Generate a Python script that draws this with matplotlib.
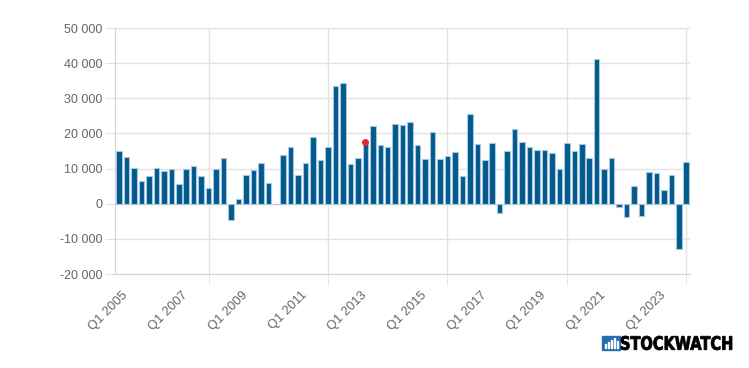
import matplotlib
matplotlib.use("Agg")
import matplotlib.pyplot as plt
from matplotlib.patches import Rectangle, PathPatch
from matplotlib.textpath import TextPath
from matplotlib.font_manager import FontProperties
from matplotlib.transforms import Affine2D, ScaledTranslation
from matplotlib.ticker import FuncFormatter

plt.rcParams['font.family'] = ['Liberation Sans', 'DejaVu Sans']

# quarterly values, Q1 2005 .. Q1 2024
values = [15100, 13300, 10200, 6400, 7800, 10300, 9300, 9800,
          5600, 10000, 10800, 7800, 4500, 9900, 13000, -4600,
          1300, 8100, 9500, 11500, 6000, -200, 13800, 16000,
          8200, 11700, 19100, 12400, 16200, 33600, 34400, 11200,
          12900, 17200, 22000, 16600, 16000, 22700, 22300, 23200,
          16600, 12700, 20400, 12800, 13600, 14600, 7800, 25400,
          16900, 12300, 17200, -2700, 15100, 21400, 17500, 16000,
          15400, 15400, 14500, 9900, 17200, 15000, 16900, 12900,
          41300, 9800, 13000, -900, -3900, 5000, -3400, 9100,
          8700, 4000, 8300, -12900, 11900]
quarters = ["Q%d %d" % (q, 2005 + i // 4) for i, q in
            enumerate([1, 2, 3, 4] * 20)][:len(values)]
marker_idx = 33
marker_val = 17500

bar_col = '#015a8c'
edge_col = '#a8c7de'
grid_col = '#e2e2e2'
txt_col = '#666666'

fig = plt.figure(figsize=(7.49, 3.68), dpi=100)
ax = fig.add_axes([0.1535, 0.2554, 0.9212 - 0.1535, 0.9239 - 0.2554])

x = list(range(len(values)))
ax.bar(x, values, width=0.74, color=bar_col, edgecolor=edge_col, linewidth=0.8, zorder=3)
ax.plot([marker_idx], [marker_val], 'o', color='#e8262b', ms=4, zorder=4)

ax.set_xlim(-0.55, 76.5)
ax.set_ylim(-20000, 50000)
ax.set_yticks(range(-20000, 50001, 10000))
ax.yaxis.set_major_formatter(FuncFormatter(lambda v, p: ("%d" % v) if abs(v) < 1000 else
                                           ("-" if v < 0 else "") + "%d 000" % (abs(v) // 1000)))
ax.grid(axis='y', color=grid_col, lw=1, zorder=0)
ax.tick_params(axis='y', length=7, color=grid_col, labelcolor=txt_col, labelsize=9, pad=2)

# labels every 8 quarters, vertical grid every 16
lab_idx = list(range(0, len(values), 8))
ax.set_xticks(lab_idx)
ax.set_xticklabels([quarters[i] for i in lab_idx], rotation=45, ha='right',
                   rotation_mode='anchor', color=txt_col, fontsize=9.3)
ax.tick_params(axis='x', which='major', length=0, pad=11)
shift = ScaledTranslation(3 / 100.0, 0, fig.dpi_scale_trans)
for lbl in ax.get_xticklabels():
    lbl.set_transform(lbl.get_transform() + shift)
ax.set_xticks([12, 28, 44, 60, 76], minor=True)
ax.tick_params(axis='x', which='minor', length=8, color=grid_col)
ax.grid(axis='x', which='minor', color=grid_col, lw=1, zorder=0)

for s in ['top', 'right']:
    ax.spines[s].set_visible(False)
ax.spines['left'].set_color('#d4d4d4')
ax.spines['bottom'].set_color('#d4d4d4')

# logo (pixel coordinates, origin bottom-left)
H = 368.0
fig.patches.append(Rectangle((602, H - 350), 18, 14, transform=None,
                             color='#2a6db0', zorder=5))
for bx, bh in [(604.5, 4), (607.5, 6), (610.5, 8), (613.5, 10), (616.5, 7)]:
    fig.patches.append(Rectangle((bx, H - 348), 1.6, bh, transform=None,
                                 color='white', zorder=6))
tp = TextPath((0, 0), "STOCKWATCH", size=20,
              prop=FontProperties(family='DejaVu Sans', weight='bold'))
ext = tp.get_extents()
sx = 111.0 / ext.width
sy = 14.0 / ext.height
tr = Affine2D().translate(-ext.x0, -ext.y0).scale(sx, sy).translate(621, H - 350)
fig.patches.append(PathPatch(tp, transform=tr, facecolor='black', edgecolor='black',
                             lw=0.6, zorder=5))

fig.savefig('out.png', dpi=100)
